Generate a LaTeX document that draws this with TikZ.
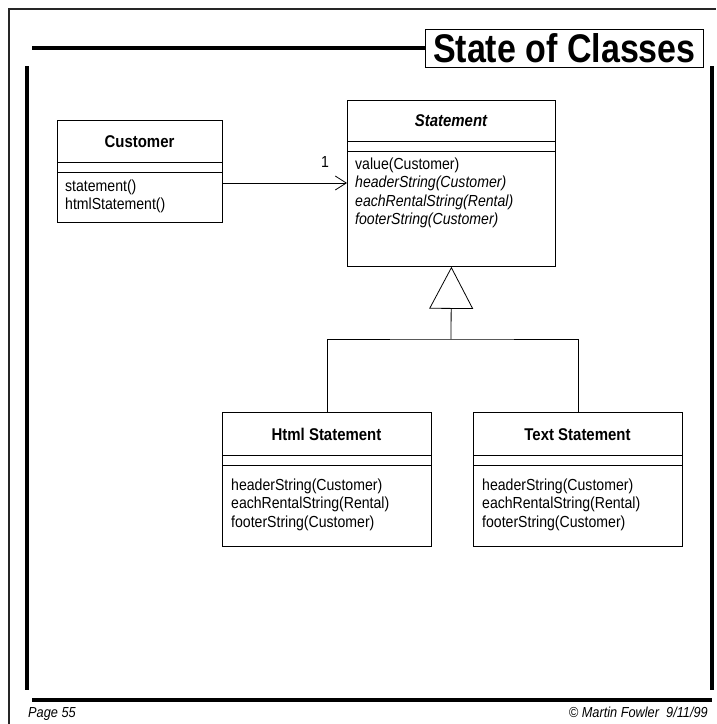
\documentclass[tikz,border=0pt]{standalone}
\usepackage{fontspec}
\setmainfont{Liberation Sans}
\usetikzlibrary{arrows.meta}
\newcommand\narrowtxt[2][0.88]{\scalebox{#1}[1]{#2}}
\begin{document}
\begin{tikzpicture}[x=1pt,y=-1pt,
  thinline/.style={line width=0.8pt, draw=black},
  heavyline/.style={line width=3.5pt, draw=black},
  cls/.style={draw=black, line width=0.8pt, inner sep=0pt, anchor=north west},
  clsname/.style={inner sep=0pt, anchor=base, font=\fontsize{17}{20}\selectfont\bfseries},
  opline/.style={inner sep=0pt, anchor=base west, font=\fontsize{16}{19}\selectfont},
  opital/.style={opline, font=\fontsize{16}{19}\selectfont\itshape},
  footer/.style={inner sep=0pt, font=\fontsize{14.5}{17}\selectfont\itshape}]
\useasboundingbox (0,0) rectangle (716,724);
% page frame
\draw[line width=1.5pt, draw=black!85] (9,724) -- (9,9) -- (716,9);
% title
\node[draw=black, line width=0.8pt, minimum width=278pt, minimum height=38pt, inner sep=0pt, anchor=north west] (title) at (425,29)
  {\narrowtxt[0.85]{\fontsize{40}{40}\selectfont\bfseries State of Classes}};
\coordinate (tl) at (32,48);
\draw[heavyline] (tl) -- (title.west |- tl);
\draw[heavyline] (27,66) -- (27,690);
\draw[heavyline] (712,66) -- (712,690);
\draw[line width=4pt] (32,700) -- (712,700);
\node[footer, anchor=base west] (page) at (28,717) {\narrowtxt{Page 55}};
\node[footer, anchor=base east] (copy) at (708,717) {\narrowtxt{\textcopyright\ Martin Fowler\ \ 9/11/99}};
% Customer
\node[cls, minimum width=165pt, minimum height=102pt] (cust) at (57,120) {};
\draw[thinline] (57,162) -- (222,162);
\draw[thinline] (57,172) -- (222,172);
\node[clsname] (custname) at (139.5,147) {\narrowtxt{Customer}};
\node[opline] (c1) at (65,191) {\narrowtxt{statement()}};
\node[opline] (c2) at (65,209.5) {\narrowtxt{htmlStatement()}};
% Statement
\node[cls, minimum width=208pt, minimum height=166pt] (stmt) at (347,100) {};
\draw[thinline] (347,141) -- (555,141);
\draw[thinline] (347,151) -- (555,151);
\node[clsname, font=\fontsize{17}{20}\selectfont\bfseries\itshape] (stmtname) at (451,126) {\narrowtxt{Statement}};
\node[opline] (s1) at (355,169) {\narrowtxt{value(Customer)}};
\node[opital] (s2) at (355,187.5) {\narrowtxt{headerString(Customer)}};
\node[opital] (s3) at (355,206) {\narrowtxt{eachRentalString(Rental)}};
\node[opital] (s4) at (355,224.5) {\narrowtxt{footerString(Customer)}};
% Html Statement
\node[cls, minimum width=209pt, minimum height=134pt] (html) at (222,412) {};
\draw[thinline] (222,455) -- (431,455);
\draw[thinline] (222,465) -- (431,465);
\node[clsname] (htmlname) at (326.5,440) {\narrowtxt{Html Statement}};
\node[opline] (h1) at (231,490) {\narrowtxt{headerString(Customer)}};
\node[opline] (h2) at (231,508.5) {\narrowtxt{eachRentalString(Rental)}};
\node[opline] (h3) at (231,527) {\narrowtxt{footerString(Customer)}};
% Text Statement
\node[cls, minimum width=209pt, minimum height=134pt] (txt) at (473,412) {};
\draw[thinline] (473,455) -- (682,455);
\draw[thinline] (473,465) -- (682,465);
\node[clsname] (txtname) at (577.5,440) {\narrowtxt{Text Statement}};
\node[opline] (t1) at (482,490) {\narrowtxt{headerString(Customer)}};
\node[opline] (t2) at (482,508.5) {\narrowtxt{eachRentalString(Rental)}};
\node[opline] (t3) at (482,527) {\narrowtxt{footerString(Customer)}};
% association
\coordinate (ay) at (0,183);
\draw[thinline, -{Straight Barb[length=11pt,width=14pt,line width=0.8pt]}] (cust.east |- ay) -- (stmt.west |- ay);
\node[inner sep=0pt, font=\fontsize{16}{19}\selectfont] (mult) at (325,162) {\narrowtxt{1}};
% generalization
\coordinate (jn) at (451,339);
\draw[thinline, -{Triangle[open,length=42pt,width=44pt,line width=0.8pt]}] (jn) -- (stmt.south);
\draw[thinline] (html.north) |- (jn) -| (txt.north);
\end{tikzpicture}
\end{document}
